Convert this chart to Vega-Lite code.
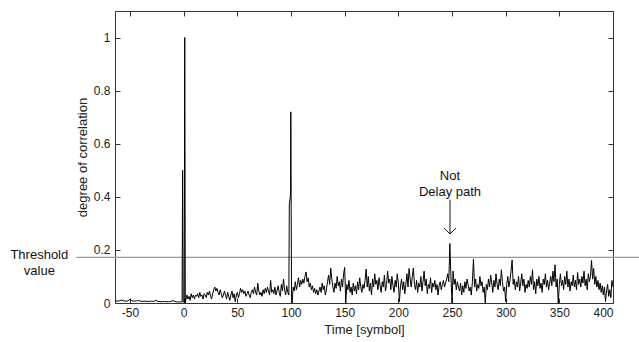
{
  "$schema": "https://vega.github.io/schema/vega-lite/v6.json",
  "width": 498,
  "height": 292,
  "autosize": {"type": "none"},
  "padding": {"left": 115, "top": 11, "right": 26, "bottom": 39},
  "background": "white",
  "config": {
    "view": {"stroke": "#333", "strokeWidth": 1},
    "font": "Liberation Sans",
    "axis": {
      "labelFont": "Liberation Sans", "labelFontSize": 12, "labelColor": "#222",
      "titleFont": "Liberation Sans", "titleFontSize": 13, "titleFontWeight": "normal", "titleColor": "#222",
      "tickColor": "#333", "tickSize": -5, "domain": false, "grid": false
    }
  },
  "resolve": {"axis": {"x": "independent", "y": "independent"}},
  "layer": [
    {
      "data": {"values": [{"x": -100.3, "x2": 424.2, "y": 0.172}]},
      "mark": {"type": "rule", "color": "#9a9a9a", "strokeWidth": 1.2, "clip": false},
      "encoding": {
        "x": {"field": "x", "type": "quantitative", "scale": {"domain": [-64, 400], "nice": false, "zero": false},
              "axis": {"orient": "top", "labels": false, "title": null, "values": [-50, 0, 50, 100, 150, 200, 250, 300, 350, 400]}},
        "x2": {"field": "x2"},
        "y": {"field": "y", "type": "quantitative", "scale": {"domain": [0, 1.1], "nice": false, "zero": false},
              "axis": {"orient": "right", "labels": false, "title": null, "values": [0, 0.2, 0.4, 0.6, 0.8, 1]}}
      }
    },
    {
      "data": {"values": [
        {"x": -64, "y": 0.008}, {"x": -62, "y": 0.007}, {"x": -60, "y": 0.008}, {"x": -58, "y": 0.011}, {"x": -56, "y": 0.008},
        {"x": -54, "y": 0.007}, {"x": -52, "y": 0.008}, {"x": -50, "y": 0.014}, {"x": -48, "y": 0.008}, {"x": -46, "y": 0.007},
        {"x": -44, "y": 0.008}, {"x": -42, "y": 0.009}, {"x": -40, "y": 0.007}, {"x": -38, "y": 0.006}, {"x": -36, "y": 0.007},
        {"x": -34, "y": 0.006}, {"x": -32, "y": 0.006}, {"x": -30, "y": 0.007}, {"x": -28, "y": 0.006}, {"x": -26, "y": 0.01},
        {"x": -24, "y": 0.006}, {"x": -22, "y": 0.005}, {"x": -20, "y": 0.005}, {"x": -18, "y": 0.006}, {"x": -16, "y": 0.005},
        {"x": -14, "y": 0.005}, {"x": -12, "y": 0.006}, {"x": -10, "y": 0.009}, {"x": -8, "y": 0.005}, {"x": -6, "y": 0.004},
        {"x": -4, "y": 0.004}, {"x": -2, "y": 0.004}, {"x": -1.5, "y": 0.004}, {"x": -1, "y": 0.5}, {"x": -0.5, "y": 0.004},
        {"x": 0.5, "y": 0.004}, {"x": 1, "y": 1.0}, {"x": 1.5, "y": 0.0},
        {"x": 2, "y": 0.012}, {"x": 3, "y": 0.03}, {"x": 4, "y": 0.015}, {"x": 5, "y": 0.025}, {"x": 6, "y": 0.01},
        {"x": 7, "y": 0.035}, {"x": 8, "y": 0.02}, {"x": 9, "y": 0.03}, {"x": 10, "y": 0.015},
        {"x": 11, "y": 0.03}, {"x": 12, "y": 0.025}, {"x": 13, "y": 0.035}, {"x": 14, "y": 0.02}, {"x": 15, "y": 0.04},
        {"x": 16, "y": 0.025}, {"x": 17, "y": 0.03}, {"x": 18, "y": 0.015}, {"x": 19, "y": 0.035}, {"x": 20, "y": 0.03},
        {"x": 21, "y": 0.02}, {"x": 22, "y": 0.04}, {"x": 23, "y": 0.03}, {"x": 24, "y": 0.045}, {"x": 25, "y": 0.025},
        {"x": 26, "y": 0.015}, {"x": 27, "y": 0.035}, {"x": 28, "y": 0.05}, {"x": 29, "y": 0.06}, {"x": 30, "y": 0.045},
        {"x": 31, "y": 0.055}, {"x": 32, "y": 0.04}, {"x": 33, "y": 0.03}, {"x": 34, "y": 0.05}, {"x": 35, "y": 0.035},
        {"x": 36, "y": 0.02}, {"x": 37, "y": 0.03}, {"x": 38, "y": 0.045}, {"x": 39, "y": 0.03}, {"x": 40, "y": 0.015},
        {"x": 41, "y": 0.04}, {"x": 42, "y": 0.025}, {"x": 43, "y": 0.01}, {"x": 44, "y": 0.03}, {"x": 45, "y": 0.045},
        {"x": 46, "y": 0.02}, {"x": 47, "y": 0.035}, {"x": 48, "y": 0.005}, {"x": 49, "y": 0.03}, {"x": 50, "y": 0.04},
        {"x": 51, "y": 0.02}, {"x": 52, "y": 0.035}, {"x": 53, "y": 0.055}, {"x": 54, "y": 0.04}, {"x": 55, "y": 0.05},
        {"x": 56, "y": 0.035}, {"x": 57, "y": 0.045}, {"x": 58, "y": 0.025}, {"x": 59, "y": 0.035}, {"x": 60, "y": 0.045},
        {"x": 61, "y": 0.03}, {"x": 62, "y": 0.02}, {"x": 63, "y": 0.04}, {"x": 64, "y": 0.05}, {"x": 65, "y": 0.035},
        {"x": 66, "y": 0.06}, {"x": 67, "y": 0.04}, {"x": 68, "y": 0.03}, {"x": 69, "y": 0.075}, {"x": 70, "y": 0.045},
        {"x": 71, "y": 0.03}, {"x": 72, "y": 0.04}, {"x": 73, "y": 0.025}, {"x": 74, "y": 0.05}, {"x": 75, "y": 0.035},
        {"x": 76, "y": 0.055}, {"x": 77, "y": 0.04}, {"x": 78, "y": 0.06}, {"x": 79, "y": 0.045}, {"x": 80, "y": 0.03},
        {"x": 81, "y": 0.085}, {"x": 82, "y": 0.04}, {"x": 83, "y": 0.05}, {"x": 84, "y": 0.035}, {"x": 85, "y": 0.06},
        {"x": 86, "y": 0.03}, {"x": 87, "y": 0.045}, {"x": 88, "y": 0.065}, {"x": 89, "y": 0.04}, {"x": 90, "y": 0.025},
        {"x": 91, "y": 0.07}, {"x": 92, "y": 0.045}, {"x": 93, "y": 0.09}, {"x": 94, "y": 0.05}, {"x": 95, "y": 0.03},
        {"x": 96, "y": 0.065}, {"x": 97, "y": 0.04}, {"x": 98, "y": 0.03}, {"x": 98.4, "y": 0.37}, {"x": 99.6, "y": 0.41},
        {"x": 99.8, "y": 0.72}, {"x": 100.5, "y": 0.02}, {"x": 101, "y": 0.0},
        {"x": 102, "y": 0.06}, {"x": 103, "y": 0.045}, {"x": 104, "y": 0.08}, {"x": 105, "y": 0.05}, {"x": 106, "y": 0.07},
        {"x": 107, "y": 0.095}, {"x": 108, "y": 0.06}, {"x": 109, "y": 0.085}, {"x": 110, "y": 0.07},
        {"x": 111, "y": 0.09}, {"x": 112, "y": 0.075}, {"x": 113, "y": 0.1}, {"x": 114, "y": 0.117}, {"x": 115, "y": 0.08},
        {"x": 116, "y": 0.095}, {"x": 117, "y": 0.06}, {"x": 118, "y": 0.075}, {"x": 119, "y": 0.05}, {"x": 120, "y": 0.065},
        {"x": 121, "y": 0.04}, {"x": 122, "y": 0.055}, {"x": 123, "y": 0.035}, {"x": 124, "y": 0.05}, {"x": 125, "y": 0.03},
        {"x": 126, "y": 0.045}, {"x": 127, "y": 0.06}, {"x": 128, "y": 0.04}, {"x": 129, "y": 0.075}, {"x": 130, "y": 0.05},
        {"x": 131, "y": 0.065}, {"x": 132, "y": 0.03}, {"x": 133, "y": 0.05}, {"x": 134, "y": 0.08}, {"x": 135, "y": 0.105},
        {"x": 136, "y": 0.07}, {"x": 137, "y": 0.131}, {"x": 138, "y": 0.09}, {"x": 139, "y": 0.06}, {"x": 140, "y": 0.04},
        {"x": 141, "y": 0.075}, {"x": 142, "y": 0.055}, {"x": 143, "y": 0.1}, {"x": 144, "y": 0.065}, {"x": 145, "y": 0.08},
        {"x": 146, "y": 0.045}, {"x": 147, "y": 0.09}, {"x": 148, "y": 0.06}, {"x": 149, "y": 0.11}, {"x": 150, "y": 0.134},
        {"x": 151, "y": 0.0}, {"x": 152, "y": 0.07}, {"x": 153, "y": 0.05}, {"x": 154, "y": 0.085}, {"x": 155, "y": 0.04},
        {"x": 156, "y": 0.06}, {"x": 157, "y": 0.03}, {"x": 158, "y": 0.075}, {"x": 159, "y": 0.045}, {"x": 160, "y": 0.065},
        {"x": 161, "y": 0.035}, {"x": 162, "y": 0.08}, {"x": 163, "y": 0.05}, {"x": 164, "y": 0.095}, {"x": 165, "y": 0.06},
        {"x": 166, "y": 0.04}, {"x": 167, "y": 0.07}, {"x": 168, "y": 0.055}, {"x": 169, "y": 0.085}, {"x": 170, "y": 0.128},
        {"x": 171, "y": 0.06}, {"x": 172, "y": 0.1}, {"x": 173, "y": 0.045}, {"x": 174, "y": 0.075}, {"x": 175, "y": 0.03},
        {"x": 176, "y": 0.09}, {"x": 177, "y": 0.06}, {"x": 178, "y": 0.11}, {"x": 179, "y": 0.07}, {"x": 180, "y": 0.085},
        {"x": 181, "y": 0.05}, {"x": 182, "y": 0.095}, {"x": 183, "y": 0.065}, {"x": 184, "y": 0.04}, {"x": 185, "y": 0.08},
        {"x": 186, "y": 0.06}, {"x": 187, "y": 0.105}, {"x": 188, "y": 0.045}, {"x": 189, "y": 0.07}, {"x": 190, "y": 0.12},
        {"x": 191, "y": 0.075}, {"x": 192, "y": 0.09}, {"x": 193, "y": 0.05}, {"x": 194, "y": 0.1}, {"x": 195, "y": 0.065},
        {"x": 196, "y": 0.04}, {"x": 197, "y": 0.085}, {"x": 198, "y": 0.06}, {"x": 199, "y": 0.11}, {"x": 200, "y": 0.075},
        {"x": 201, "y": 0.005}, {"x": 202, "y": 0.065}, {"x": 203, "y": 0.09}, {"x": 204, "y": 0.05}, {"x": 205, "y": 0.08},
        {"x": 206, "y": 0.035}, {"x": 207, "y": 0.07}, {"x": 208, "y": 0.11}, {"x": 209, "y": 0.06}, {"x": 210, "y": 0.13},
        {"x": 211, "y": 0.09}, {"x": 212, "y": 0.06}, {"x": 213, "y": 0.1}, {"x": 214, "y": 0.132}, {"x": 215, "y": 0.07},
        {"x": 216, "y": 0.05}, {"x": 217, "y": 0.085}, {"x": 218, "y": 0.04}, {"x": 219, "y": 0.075}, {"x": 220, "y": 0.06},
        {"x": 221, "y": 0.1}, {"x": 222, "y": 0.045}, {"x": 223, "y": 0.08}, {"x": 224, "y": 0.12}, {"x": 225, "y": 0.065},
        {"x": 226, "y": 0.09}, {"x": 227, "y": 0.035}, {"x": 228, "y": 0.07}, {"x": 229, "y": 0.055}, {"x": 230, "y": 0.095},
        {"x": 231, "y": 0.04}, {"x": 232, "y": 0.075}, {"x": 233, "y": 0.06}, {"x": 234, "y": 0.085}, {"x": 235, "y": 0.05},
        {"x": 236, "y": 0.07}, {"x": 237, "y": 0.03}, {"x": 238, "y": 0.065}, {"x": 239, "y": 0.08}, {"x": 240, "y": 0.05},
        {"x": 241, "y": 0.07}, {"x": 242, "y": 0.085}, {"x": 243, "y": 0.06}, {"x": 244, "y": 0.075}, {"x": 245, "y": 0.09},
        {"x": 246, "y": 0.11}, {"x": 247, "y": 0.08}, {"x": 248, "y": 0.224}, {"x": 249, "y": 0.1}, {"x": 250, "y": 0.0},
        {"x": 251, "y": 0.12}, {"x": 252, "y": 0.07}, {"x": 253, "y": 0.09}, {"x": 254, "y": 0.05}, {"x": 255, "y": 0.08},
        {"x": 256, "y": 0.06}, {"x": 257, "y": 0.045}, {"x": 258, "y": 0.075}, {"x": 259, "y": 0.03}, {"x": 260, "y": 0.065},
        {"x": 261, "y": 0.04}, {"x": 262, "y": 0.08}, {"x": 263, "y": 0.055}, {"x": 264, "y": 0.09}, {"x": 265, "y": 0.07},
        {"x": 266, "y": 0.045}, {"x": 267, "y": 0.06}, {"x": 268, "y": 0.03}, {"x": 269, "y": 0.08}, {"x": 270, "y": 0.165},
        {"x": 271, "y": 0.06}, {"x": 272, "y": 0.09}, {"x": 273, "y": 0.045}, {"x": 274, "y": 0.07}, {"x": 275, "y": 0.055},
        {"x": 276, "y": 0.1}, {"x": 277, "y": 0.065}, {"x": 278, "y": 0.08}, {"x": 279, "y": 0.04}, {"x": 280, "y": 0.06},
        {"x": 281, "y": 0.0}, {"x": 282, "y": 0.07}, {"x": 283, "y": 0.05}, {"x": 284, "y": 0.09}, {"x": 285, "y": 0.06},
        {"x": 286, "y": 0.105}, {"x": 287, "y": 0.075}, {"x": 288, "y": 0.04}, {"x": 289, "y": 0.085}, {"x": 290, "y": 0.06},
        {"x": 291, "y": 0.11}, {"x": 292, "y": 0.07}, {"x": 293, "y": 0.05}, {"x": 294, "y": 0.09}, {"x": 295, "y": 0.065},
        {"x": 296, "y": 0.125}, {"x": 297, "y": 0.08}, {"x": 298, "y": 0.045}, {"x": 299, "y": 0.06}, {"x": 300, "y": 0.005},
        {"x": 301, "y": 0.07}, {"x": 302, "y": 0.1}, {"x": 303, "y": 0.06}, {"x": 304, "y": 0.085}, {"x": 305, "y": 0.12},
        {"x": 306, "y": 0.162}, {"x": 307, "y": 0.07}, {"x": 308, "y": 0.09}, {"x": 309, "y": 0.05}, {"x": 310, "y": 0.08},
        {"x": 311, "y": 0.06}, {"x": 312, "y": 0.1}, {"x": 313, "y": 0.045}, {"x": 314, "y": 0.075}, {"x": 315, "y": 0.11},
        {"x": 316, "y": 0.065}, {"x": 317, "y": 0.09}, {"x": 318, "y": 0.04}, {"x": 319, "y": 0.07}, {"x": 320, "y": 0.055},
        {"x": 321, "y": 0.085}, {"x": 322, "y": 0.06}, {"x": 323, "y": 0.1}, {"x": 324, "y": 0.07}, {"x": 325, "y": 0.125},
        {"x": 326, "y": 0.05}, {"x": 327, "y": 0.08}, {"x": 328, "y": 0.035}, {"x": 329, "y": 0.09}, {"x": 330, "y": 0.065},
        {"x": 331, "y": 0.1}, {"x": 332, "y": 0.055}, {"x": 333, "y": 0.075}, {"x": 334, "y": 0.04}, {"x": 335, "y": 0.09},
        {"x": 336, "y": 0.07}, {"x": 337, "y": 0.11}, {"x": 338, "y": 0.06}, {"x": 339, "y": 0.085}, {"x": 340, "y": 0.05},
        {"x": 341, "y": 0.075}, {"x": 342, "y": 0.1}, {"x": 343, "y": 0.065}, {"x": 344, "y": 0.12}, {"x": 345, "y": 0.08},
        {"x": 346, "y": 0.144}, {"x": 347, "y": 0.06}, {"x": 348, "y": 0.09}, {"x": 349, "y": 0.0}, {"x": 350, "y": 0.07},
        {"x": 351, "y": 0.11}, {"x": 352, "y": 0.065}, {"x": 353, "y": 0.085}, {"x": 354, "y": 0.05}, {"x": 355, "y": 0.1},
        {"x": 356, "y": 0.07}, {"x": 357, "y": 0.12}, {"x": 358, "y": 0.06}, {"x": 359, "y": 0.09}, {"x": 360, "y": 0.045},
        {"x": 361, "y": 0.08}, {"x": 362, "y": 0.065}, {"x": 363, "y": 0.105}, {"x": 364, "y": 0.06}, {"x": 365, "y": 0.085},
        {"x": 366, "y": 0.05}, {"x": 367, "y": 0.115}, {"x": 368, "y": 0.07}, {"x": 369, "y": 0.09}, {"x": 370, "y": 0.06},
        {"x": 371, "y": 0.1}, {"x": 372, "y": 0.075}, {"x": 373, "y": 0.12}, {"x": 374, "y": 0.065}, {"x": 375, "y": 0.09},
        {"x": 376, "y": 0.05}, {"x": 377, "y": 0.11}, {"x": 378, "y": 0.08}, {"x": 379, "y": 0.1}, {"x": 380, "y": 0.16},
        {"x": 381, "y": 0.09}, {"x": 382, "y": 0.13}, {"x": 383, "y": 0.07}, {"x": 384, "y": 0.1}, {"x": 385, "y": 0.06},
        {"x": 386, "y": 0.085}, {"x": 387, "y": 0.05}, {"x": 388, "y": 0.075}, {"x": 389, "y": 0.04}, {"x": 390, "y": 0.065},
        {"x": 391, "y": 0.03}, {"x": 392, "y": 0.06}, {"x": 393, "y": 0.005}, {"x": 394, "y": 0.045}, {"x": 395, "y": 0.07},
        {"x": 396, "y": 0.025}, {"x": 397, "y": 0.05}, {"x": 398, "y": 0.02}, {"x": 399, "y": 0.085}, {"x": 400, "y": 0.06}
      ]},
      "mark": {"type": "line", "color": "#000", "strokeWidth": 1, "clip": true},
      "encoding": {
        "x": {"field": "x", "type": "quantitative", "scale": {"domain": [-64, 400], "nice": false, "zero": false},
              "axis": {"orient": "bottom", "title": "Time [symbol]", "values": [-50, 0, 50, 100, 150, 200, 250, 300, 350, 400],
                       "labelExpr": "'' + datum.value", "labelPadding": 9, "titlePadding": 5}},
        "y": {"field": "y", "type": "quantitative", "scale": {"domain": [0, 1.1], "nice": false, "zero": false},
              "axis": {"orient": "left", "title": "degree of correlation", "values": [0, 0.2, 0.4, 0.6, 0.8, 1],
                       "labelExpr": "'' + datum.value", "labelPadding": 10, "titlePadding": 4}}
      }
    },
    {
      "data": {"values": [
        {"x": 248.1, "y": 0.389, "x2": 248.1, "y2": 0.26},
        {"x": 242.5, "y": 0.282, "x2": 248.1, "y2": 0.26},
        {"x": 253.7, "y": 0.282, "x2": 248.1, "y2": 0.26}
      ]},
      "mark": {"type": "rule", "color": "#111", "strokeWidth": 1, "clip": false},
      "encoding": {
        "x": {"field": "x", "type": "quantitative", "scale": {"domain": [-64, 400], "nice": false, "zero": false}, "axis": null},
        "x2": {"field": "x2"},
        "y": {"field": "y", "type": "quantitative", "scale": {"domain": [0, 1.1], "nice": false, "zero": false}, "axis": null},
        "y2": {"field": "y2"}
      }
    },
    {
      "data": {"values": [
        {"x": -134.5, "y": 0.181, "t": "Threshold\nvalue"},
        {"x": 248.1, "y": 0.477, "t": "Not\nDelay path"}
      ]},
      "mark": {"type": "text", "font": "Liberation Sans", "fontSize": 13, "color": "#111", "lineBreak": "\n", "lineHeight": 16, "align": "center", "baseline": "middle", "clip": false},
      "encoding": {
        "x": {"field": "x", "type": "quantitative", "scale": {"domain": [-64, 400], "nice": false, "zero": false}, "axis": null},
        "y": {"field": "y", "type": "quantitative", "scale": {"domain": [0, 1.1], "nice": false, "zero": false}, "axis": null},
        "text": {"field": "t"}
      }
    }
  ]
}
